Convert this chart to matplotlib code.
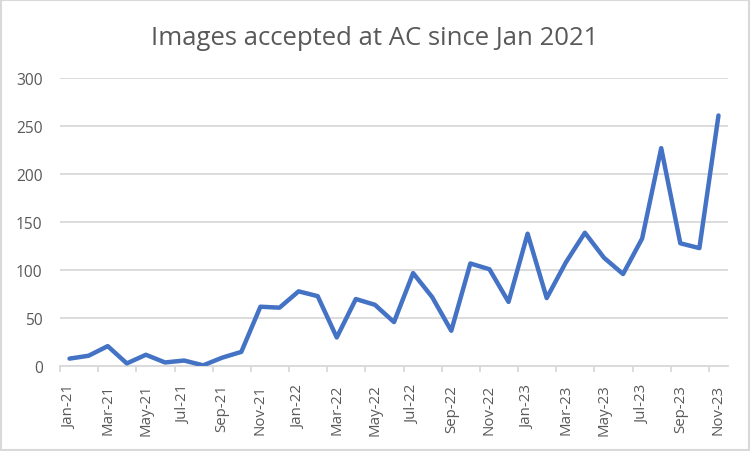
import matplotlib.pyplot as plt
import numpy as np

# monthly counts Jan-21 .. Nov-23
months = ['Jan-21', 'Feb-21', 'Mar-21', 'Apr-21', 'May-21', 'Jun-21', 'Jul-21', 'Aug-21',
          'Sep-21', 'Oct-21', 'Nov-21', 'Dec-21',
          'Jan-22', 'Feb-22', 'Mar-22', 'Apr-22', 'May-22', 'Jun-22', 'Jul-22', 'Aug-22',
          'Sep-22', 'Oct-22', 'Nov-22', 'Dec-22',
          'Jan-23', 'Feb-23', 'Mar-23', 'Apr-23', 'May-23', 'Jun-23', 'Jul-23', 'Aug-23',
          'Sep-23', 'Oct-23', 'Nov-23']
images = [8, 11, 21, 3, 12, 4, 6, 1, 9, 15, 62, 61,
          78, 73, 30, 70, 64, 46, 97, 72, 37, 107, 101, 67,
          138, 71, 108, 139, 113, 96, 133, 227, 128, 123, 261]
yticks = [0, 50, 100, 150, 200, 250, 300]

plt.rcParams['font.family'] = ['Open Sans', 'DejaVu Sans']
grey = '#595959'

fig = plt.figure(figsize=(7.51, 4.52), dpi=100)
ax = fig.add_axes([0.0799, 0.1874, 0.8895, 0.6378])

x = np.arange(len(months))
ax.plot(x, images, color='#4472C4', lw=3.2, solid_joinstyle='round', solid_capstyle='round', zorder=3)

ax.set_xlim(-0.5, len(months) - 0.5)
ax.set_ylim(0, 300)
ax.set_yticks(yticks)
ax.set_yticklabels([str(v) for v in yticks], color=grey, fontsize=11.2)
ax.tick_params(axis='y', length=0, pad=12.5)
ax.grid(axis='y', color='#d9d9d9', lw=1.3, zorder=0)

# labels every 2 months at centres, ticks at category boundaries
ax.set_xticks(x[::2])
ax.set_xticklabels(months[::2], rotation=90, color=grey, fontsize=10.8)
ax.tick_params(axis='x', length=0, pad=12.5)
ax.set_xticks(np.arange(-0.5, len(months), 2), minor=True)
ax.tick_params(axis='x', which='minor', length=4, color='#d9d9d9', width=1.3)

for s in ['top', 'right', 'left']:
    ax.spines[s].set_visible(False)
ax.spines['bottom'].set_color('#d9d9d9')
ax.spines['bottom'].set_linewidth(1.3)

fig.text(0.4993, 0.914, 'Images accepted at AC since Jan 2021', ha='center', va='center',
         fontsize=18.5, color=grey)

# light border round the whole chart
fig.patches.append(plt.Rectangle((0.001, 0.002), 0.997, 0.996, transform=fig.transFigure,
                                 fill=False, edgecolor='#d9d9d9', lw=1.5))

fig.savefig('out.png', dpi=100)
